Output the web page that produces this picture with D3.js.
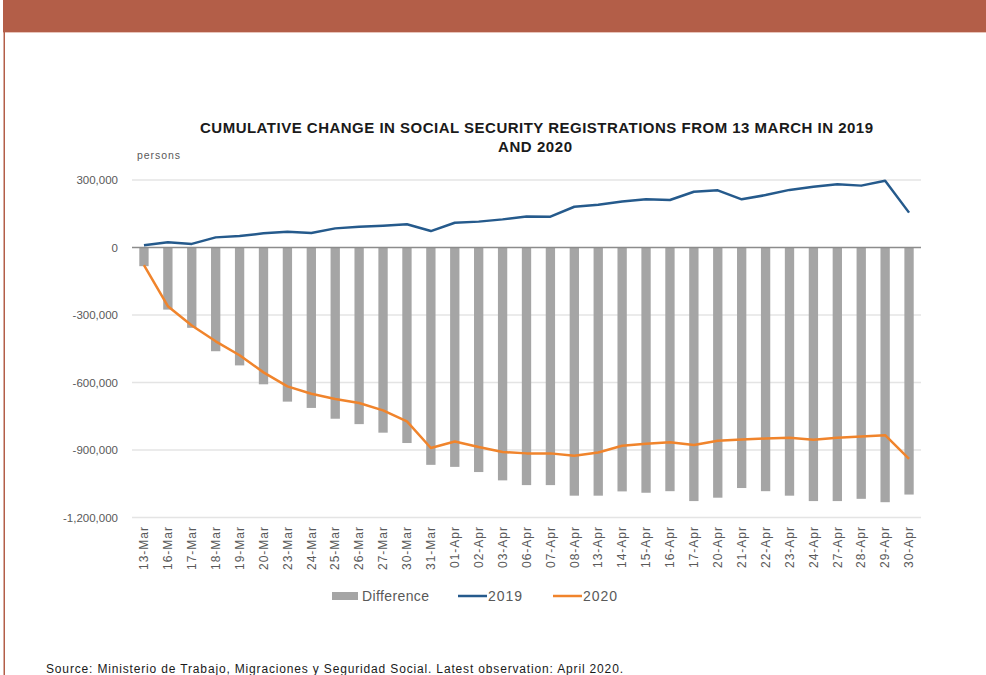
<!DOCTYPE html>
<html>
<head>
<meta charset="utf-8">
<script src="https://cdn.jsdelivr.net/npm/d3@7"></script>
<style>
  body { margin: 0; background: #fff; }
  svg { display: block; font-family: "Liberation Sans", Arial, sans-serif; }
</style>
</head>
<body>
<script>
// dates on the x axis
const dates = ["13-Mar", "16-Mar", "17-Mar", "18-Mar", "19-Mar", "20-Mar", "23-Mar", "24-Mar", "25-Mar",
  "26-Mar", "27-Mar", "30-Mar", "31-Mar", "01-Apr", "02-Apr", "03-Apr", "06-Apr", "07-Apr", "08-Apr",
  "13-Apr", "14-Apr", "15-Apr", "16-Apr", "17-Apr", "20-Apr", "21-Apr", "22-Apr", "23-Apr", "24-Apr",
  "27-Apr", "28-Apr", "29-Apr", "30-Apr"]

// cumulative change, persons
const diff = [-83000, -276000, -357000, -461000, -524000, -608000, -685000, -713000, -761000,
  -785000, -823000, -869000, -966000, -975000, -998000, -1035000, -1056000, -1056000, -1103000,
  -1103000, -1084000, -1090000, -1083000, -1127000, -1112000, -1069000, -1083000, -1103000, -1127000,
  -1127000, -1117000, -1132000, -1098000]

const y2019 = [10000, 23000, 16000, 45000, 51000, 63000, 70000, 64000, 85000,
  92000, 97000, 103000, 73000, 110000, 115000, 125000, 138000, 137000, 181000,
  190000, 204000, 214000, 211000, 248000, 254000, 214000, 233000, 256000, 270000,
  281000, 275000, 297000, 155000]

const y2020 = [-78000, -261000, -347000, -417000, -479000, -555000, -617000, -650000, -673000,
  -691000, -724000, -773000, -891000, -862000, -887000, -909000, -915000, -915000, -926000,
  -911000, -881000, -872000, -866000, -878000, -859000, -853000, -849000, -846000, -854000,
  -846000, -840000, -834000, -939000]

const yTicks = [300000, 0, -300000, -600000, -900000, -1200000]

const W = 986, H = 675
const plotL = 132, plotR = 921, plotT = 180, plotB = 517.5

const svg = d3.select("body").append("svg")
  .attr("width", W)
  .attr("height", H)

// page frame: top band and left rule
svg.append("rect").attr("x", 3).attr("y", 0).attr("width", W - 3).attr("height", 32).attr("fill", "#b35e48")
svg.append("rect").attr("x", 3).attr("y", 32).attr("width", W - 3).attr("height", 1).attr("fill", "#e8c4ba")
svg.append("rect").attr("x", 3.5).attr("y", 32).attr("width", 1.5).attr("height", H - 32).attr("fill", "#b35e48")

var x = d3.scaleBand()
  .domain(dates)
  .range([plotL, plotR])
  .paddingInner(0.61)
  .paddingOuter(0.305)

var y = d3.scaleLinear()
  .domain([-1200000, 300000])
  .range([plotB, plotT])

// gridlines
svg.append("g")
  .selectAll("line")
  .data(yTicks.filter(d => d !== 0))
  .enter()
  .append("line")
  .attr("x1", plotL).attr("x2", plotR)
  .attr("y1", d => y(d)).attr("y2", d => y(d))
  .attr("stroke", "#e4e4e4")
  .attr("stroke-width", 1.5)

// y axis labels (plain hyphen for negatives)
const fmt = d3.format(",")
var yAxis = d3.axisLeft(y).tickValues(yTicks).tickFormat(d => fmt(d).replace("\u2212", "-")).tickSize(0).tickPadding(0)
const yg = svg.append("g")
  .attr("transform", "translate(118,0)")
  .call(yAxis)
yg.select(".domain").remove()
yg.selectAll("text")
  .attr("font-size", 11.5)
  .attr("fill", "#595959")
  .attr("font-family", "Liberation Sans, Arial, sans-serif")

// bars
svg.append("g")
  .selectAll("rect")
  .data(dates)
  .enter()
  .append("rect")
  .attr("x", d => x(d))
  .attr("width", x.bandwidth())
  .attr("y", y(0))
  .attr("height", (d, i) => y(diff[i]) - y(0))
  .attr("fill", "#a5a5a5")

// zero line
svg.append("line")
  .attr("x1", plotL).attr("x2", plotR)
  .attr("y1", y(0)).attr("y2", y(0))
  .attr("stroke", "#8c8c8c")
  .attr("stroke-width", 1.5)

// lines
var line = d3.line()
  .x((d, i) => x(dates[i]) + x.bandwidth() / 2)
  .y(d => y(d))

svg.append("path")
  .datum(y2019)
  .attr("d", line)
  .attr("fill", "none")
  .attr("stroke", "#255a8c")
  .attr("stroke-width", 2.5)
  .attr("stroke-linejoin", "round")

svg.append("path")
  .datum(y2020)
  .attr("d", line)
  .attr("fill", "none")
  .attr("stroke", "#f0842c")
  .attr("stroke-width", 2.5)
  .attr("stroke-linejoin", "round")

// x axis labels (rotated)
var xAxis = d3.axisBottom(x).tickSize(0).tickPadding(0)
const xg = svg.append("g")
  .attr("transform", "translate(0,526)")
  .call(xAxis)
xg.select(".domain").remove()
xg.selectAll("text")
  .attr("font-size", 12)
  .attr("letter-spacing", 1)
  .attr("fill", "#595959")
  .attr("font-family", "Liberation Sans, Arial, sans-serif")
  .attr("text-anchor", "end")
  .attr("dy", "0.35em")
  .attr("transform", "rotate(-90)")
  .attr("y", 0)
  .attr("x", 0)

// title
svg.append("text")
  .attr("x", 536.5).attr("y", 133)
  .attr("text-anchor", "middle")
  .attr("font-size", 15)
  .attr("font-weight", "bold")
  .attr("fill", "#1a1a1a")
  .attr("textLength", 673)
  .attr("lengthAdjust", "spacing")
  .text("CUMULATIVE CHANGE IN SOCIAL SECURITY REGISTRATIONS FROM 13 MARCH IN 2019")
svg.append("text")
  .attr("x", 535).attr("y", 152)
  .attr("text-anchor", "middle")
  .attr("font-size", 15)
  .attr("font-weight", "bold")
  .attr("fill", "#1a1a1a")
  .attr("textLength", 74)
  .attr("lengthAdjust", "spacing")
  .text("AND 2020")

svg.append("text")
  .attr("x", 137).attr("y", 159)
  .attr("font-size", 10.5)
  .attr("fill", "#595959")
  .attr("textLength", 43)
  .attr("lengthAdjust", "spacing")
  .text("persons")

// legend
const lg = svg.append("g").attr("font-size", 14).attr("fill", "#595959")
lg.append("rect").attr("x", 332).attr("y", 592).attr("width", 26).attr("height", 8).attr("fill", "#a5a5a5")
lg.append("text").attr("x", 362).attr("y", 601).attr("textLength", 67).attr("lengthAdjust", "spacing").text("Difference")
lg.append("line").attr("x1", 458).attr("x2", 487).attr("y1", 596).attr("y2", 596).attr("stroke", "#255a8c").attr("stroke-width", 2.5)
lg.append("text").attr("x", 488).attr("y", 601).attr("textLength", 34).attr("lengthAdjust", "spacing").text("2019")
lg.append("line").attr("x1", 553).attr("x2", 582).attr("y1", 596).attr("y2", 596).attr("stroke", "#f0842c").attr("stroke-width", 2.5)
lg.append("text").attr("x", 583).attr("y", 601).attr("textLength", 34).attr("lengthAdjust", "spacing").text("2020")

// source
svg.append("text")
  .attr("x", 46).attr("y", 673)
  .attr("font-size", 12)
  .attr("fill", "#1a1a1a")
  .attr("textLength", 577)
  .attr("lengthAdjust", "spacing")
  .text("Source: Ministerio de Trabajo, Migraciones y Seguridad Social. Latest observation: April 2020.")
</script>
</body>
</html>
